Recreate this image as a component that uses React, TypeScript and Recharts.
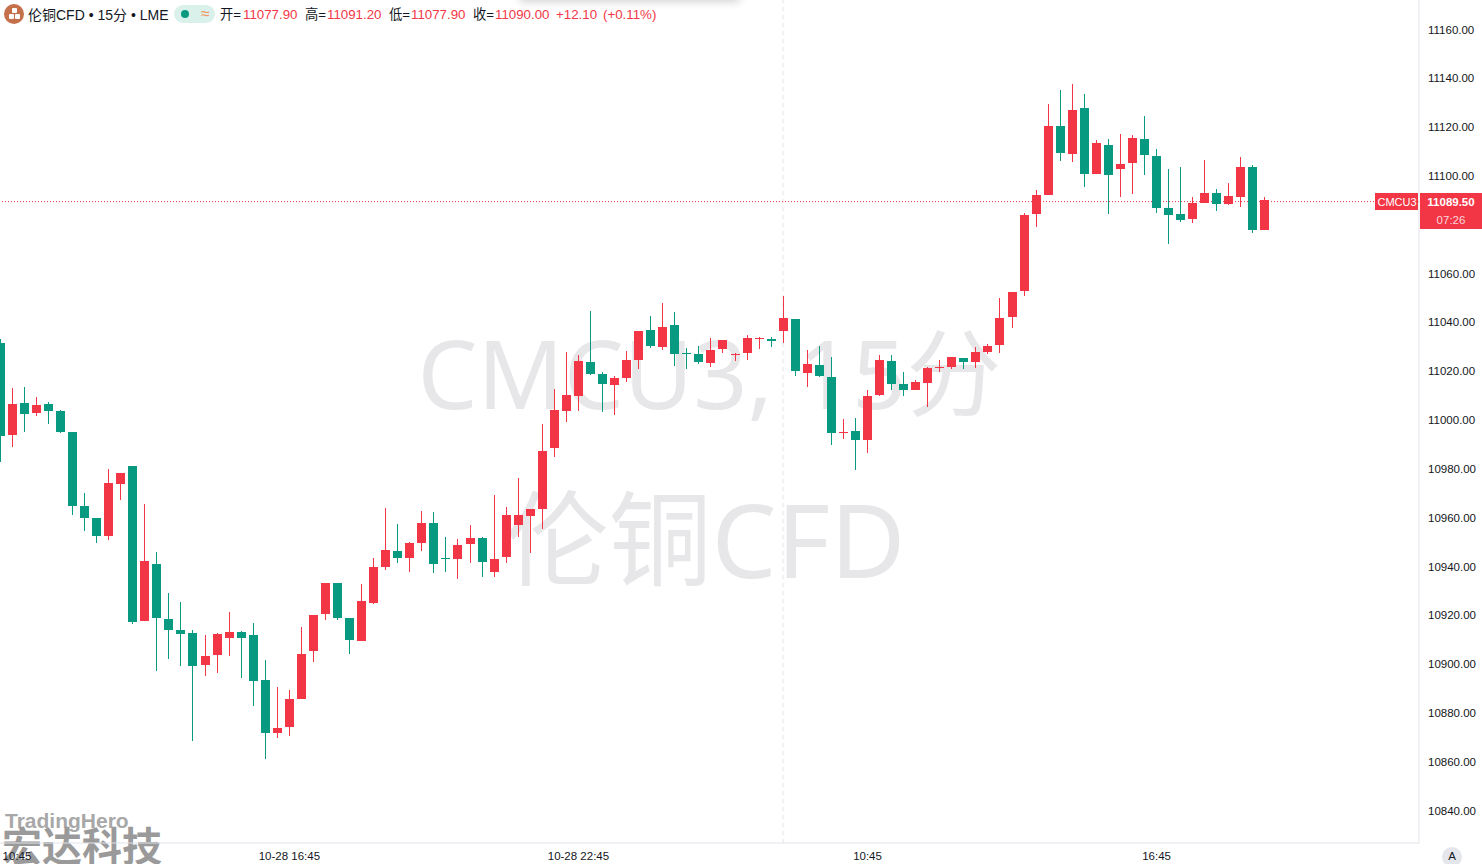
import { Bar, ComposedChart, ReferenceLine, XAxis, YAxis } from "recharts";

const UP = "#F23645";
const DOWN = "#089981";
const AXIS = "#E0E3EB";
const TEXT = "#131722";
const FONT = '"Liberation Sans", "Noto Sans CJK SC", sans-serif';

const opens = [
  11031.6, 10994.0, 11007.0, 11003.0, 11006.6, 11003.7, 10995.1, 10964.8, 10959.9, 10952.6,
  10973.9, 10981.2, 10917.8, 10941.0, 10918.5, 10914.0, 10912.8, 10899.8, 10903.9, 10910.8,
  10913.2, 10911.9, 10893.5, 10871.9, 10874.4, 10885.8, 10905.4, 10920.7, 10933.2, 10918.9,
  10909.5, 10925.2, 10939.9, 10946.4, 10943.6, 10949.8, 10957.8, 10943.5, 10943.2, 10949.3,
  10951.7, 10937.9, 10944.0, 10957.1, 10960.8, 10963.7, 10988.7, 11003.8, 11010.0, 11023.8,
  11018.9, 11014.5, 11017.4, 11024.7, 11036.9, 11030.1, 11038.9, 11027.5, 11027.1, 11023.5,
  11029.2, 11026.8, 11027.6, 11033.3, 11033.2, 11036.6, 11041.4, 11019.4, 11022.6, 11017.6,
  10994.8, 10995.5, 10992.0, 11010.4, 11024.2, 11014.8, 11012.4, 11015.3, 11021.4, 11021.9,
  11025.4, 11023.9, 11028.0, 11030.9, 11042.3, 11053.0, 11084.5, 11092.3, 11120.5, 11109.1,
  11127.8, 11100.9, 11112.7, 11103.0, 11105.4, 11115.1, 11108.2, 11086.9, 11084.4, 11082.5,
  11089.0, 11093.0, 11088.6, 11091.5, 11103.7, 11077.9,
];
const highs = [
  11033.2, 11013.1, 11013.5, 11009.4, 11007.4, 11004.1, 10995.1, 10970.1, 10959.9, 10979.9,
  10978.3, 10981.2, 10965.6, 10945.9, 10929.2, 10925.5, 10914.0, 10911.9, 10912.8, 10921.4,
  10913.6, 10916.9, 10901.7, 10890.6, 10889.4, 10915.2, 10920.1, 10933.2, 10933.2, 10918.9,
  10932.8, 10943.5, 10964.0, 10957.4, 10950.0, 10962.7, 10962.3, 10952.1, 10951.3, 10957.0,
  10952.1, 10969.3, 10964.4, 10976.3, 10963.6, 10998.4, 11012.7, 11027.9, 11026.7, 11044.7,
  11019.7, 11018.0, 11028.3, 11036.5, 11042.6, 11048.0, 11044.3, 11029.5, 11030.3, 11033.6,
  11032.8, 11027.5, 11034.8, 11034.0, 11034.0, 11050.8, 11041.4, 11028.7, 11030.3, 11025.8,
  11000.4, 11000.8, 11012.3, 11026.7, 11026.7, 11019.7, 11016.4, 11021.7, 11024.6, 11025.8,
  11025.4, 11029.9, 11031.2, 11050.0, 11052.5, 11084.8, 11094.2, 11129.5, 11135.2, 11137.7,
  11133.6, 11114.7, 11115.1, 11117.2, 11116.8, 11124.6, 11111.0, 11102.9, 11103.7, 11091.4,
  11106.5, 11094.7, 11097.1, 11107.8, 11104.5, 11091.2,
];
const lows = [
  10982.9, 10989.1, 10995.2, 11001.8, 10998.5, 10994.8, 10961.2, 10954.7, 10949.8, 10951.0,
  10967.4, 10916.6, 10917.8, 10897.3, 10902.2, 10899.4, 10868.6, 10894.9, 10896.5, 10903.5,
  10894.5, 10883.0, 10861.3, 10869.5, 10870.7, 10885.7, 10900.9, 10918.1, 10918.1, 10904.2,
  10909.5, 10924.8, 10938.7, 10941.6, 10937.9, 10946.5, 10937.5, 10937.9, 10935.0, 10941.6,
  10935.8, 10935.8, 10941.6, 10952.2, 10945.7, 10955.5, 10985.0, 10999.3, 11003.8, 11018.6,
  11003.4, 11002.2, 11015.7, 11021.0, 11029.6, 11028.8, 11022.3, 11021.0, 11023.1, 11021.9,
  11027.6, 11024.3, 11024.7, 11029.2, 11030.1, 11031.7, 11018.2, 11013.7, 11017.8, 10989.9,
  10992.4, 10979.3, 10986.6, 11010.0, 11012.4, 11010.0, 11012.4, 11005.5, 11019.8, 11021.0,
  11021.0, 11021.4, 11027.2, 11027.6, 11037.8, 11050.9, 11079.2, 11092.3, 11106.3, 11105.8,
  11095.6, 11100.9, 11084.5, 11091.5, 11092.7, 11100.5, 11084.9, 11072.2, 11081.3, 11080.9,
  11089.0, 11085.8, 11088.2, 11087.4, 11076.8, 11077.9,
];
const closes = [
  10993.6, 11006.6, 11002.6, 11006.2, 11003.8, 10995.2, 10964.9, 10960.0, 10952.6, 10974.2,
  10978.3, 10917.4, 10942.3, 10919.0, 10914.1, 10912.5, 10899.4, 10903.3, 10912.4, 10913.2,
  10910.8, 10893.2, 10871.9, 10873.8, 10885.7, 10904.2, 10920.1, 10933.2, 10919.0, 10909.9,
  10925.9, 10939.8, 10946.8, 10943.6, 10949.6, 10957.8, 10941.2, 10943.2, 10948.8, 10951.7,
  10942.0, 10943.1, 10961.1, 10961.1, 10963.6, 10987.3, 11004.1, 11010.3, 11024.2, 11019.0,
  11014.9, 11017.2, 11024.6, 11036.5, 11030.5, 11038.1, 11027.2, 11027.2, 11023.9, 11028.7,
  11032.8, 11027.1, 11033.6, 11033.6, 11032.4, 11041.8, 11020.2, 11023.0, 11018.2, 10994.8,
  10995.1, 10992.0, 11009.9, 11024.6, 11014.9, 11012.4, 11015.6, 11021.3, 11021.7, 11025.8,
  11023.9, 11027.9, 11030.3, 11041.8, 11052.5, 11084.0, 11092.2, 11120.5, 11109.5, 11127.0,
  11100.9, 11113.5, 11100.5, 11104.9, 11115.6, 11108.7, 11087.0, 11084.1, 11082.1, 11088.9,
  11093.0, 11088.6, 11091.8, 11103.7, 11078.0, 11090.0,
];

// 11080.00 sits under the price tag in the original, so it is left out
const priceTicks = [
  10840, 10860, 10880, 10900, 10920, 10940, 10960, 10980, 11000, 11020, 11040, 11060, 11100, 11120, 11140, 11160,
];
const timeTicks = [0, 24, 48, 72, 96];
const timeLabels = ["10:45", "10-28 16:45", "10-28 22:45", "10:45", "16:45"];
const lastPrice = 11089.5;
const crosshairIndex = 65;

const indexDomain = [-0.0231, 117.785];
const priceDomain = [10826.7, 11172.1];

const rows = opens.map((open, index) => ({
  index,
  open,
  close: closes[index],
  range: [lows[index], highs[index]],
}));

function Candle(props: any) {
  const { x, y, width, height, payload } = props;
  const [low, high] = payload.range;
  const perUnit = height / (high - low);
  // recharts puts the bar half a pixel right of the scale value
  const cx = Math.floor(x + width / 2 - 0.5);
  const color = payload.close >= payload.open ? UP : DOWN;
  const top = Math.round(y + (high - Math.max(payload.open, payload.close)) * perUnit);
  const bottom = Math.round(y + (high - Math.min(payload.open, payload.close)) * perUnit);
  return (
    <g shapeRendering="crispEdges">
      <rect x={cx} y={Math.round(y)} width={1} height={Math.max(1, Math.round(height))} fill={color} />
      <rect x={cx - 4} y={top} width={9} height={Math.max(1, bottom - top)} fill={color} />
    </g>
  );
}

function TimeTick(props: any) {
  const { x, y, payload } = props;
  const label = timeLabels[timeTicks.indexOf(payload.value)];
  // first label is pushed inside the pane, same as the original
  const tx = x < 17 ? 17 : x;
  return (
    <text x={tx} y={y + 9} textAnchor="middle" fontSize={11.5} fontFamily={FONT} fill={TEXT}>
      {label}
    </text>
  );
}

function PriceTag(props: any) {
  const { viewBox } = props;
  const y = Math.round(viewBox.y) - 9;
  return (
    <g fontFamily={FONT} textAnchor="middle">
      <rect x={1375} y={y} width={43} height={17} fill={UP} />
      <rect x={1420} y={y} width={62} height={36} fill={UP} />
      <text x={1397} y={y + 12.5} fontSize={11} fill="#fff">
        CMCU3
      </text>
      <text x={1451} y={y + 12.5} fontSize={11.5} fontWeight={700} fill="#fff">
        {lastPrice.toFixed(2)}
      </text>
      <text x={1451} y={y + 30.5} fontSize={11.5} fill="#FBD5D9">
        07:26
      </text>
    </g>
  );
}

const Abs = ({ x, y = 15, color = TEXT, size = 13.3, children }: any) => (
  <span
    style={{
      position: "absolute",
      left: x,
      top: y,
      transform: "translateY(-50%)",
      color,
      fontSize: size,
      lineHeight: 1,
      whiteSpace: "nowrap",
    }}
  >
    {children}
  </span>
);

function Header() {
  return (
    <>
      <div style={{ position: "absolute", left: 520, top: -10, width: 220, height: 10, boxShadow: "0 2px 8px rgba(0,0,0,0.18)" }} />
      <div style={{ position: "absolute", left: 4, top: 4, width: 20, height: 20, borderRadius: 10, background: "#C4704A" }} />
      <div style={{ position: "absolute", left: 12, top: 8, width: 5, height: 5, borderRadius: 1, background: "#fff" }} />
      <div style={{ position: "absolute", left: 9, top: 14, width: 5, height: 5, borderRadius: 1, background: "#fff" }} />
      <div style={{ position: "absolute", left: 15, top: 14, width: 5, height: 5, borderRadius: 1, background: "#fff" }} />
      <Abs x={28} size={14}>伦铜CFD • 15分 • LME</Abs>
      <div style={{ position: "absolute", left: 174, top: 5, width: 41, height: 18, borderRadius: 9, background: "#D9F0EB" }} />
      <div style={{ position: "absolute", left: 181, top: 10, width: 8, height: 8, borderRadius: 4, background: "#089981" }} />
      <Abs x={201} y={14} color="#F7925A" size={16}>≈</Abs>
      <Abs x={220}>开=</Abs>
      <Abs x={243} color={UP}>11077.90</Abs>
      <Abs x={305}>高=</Abs>
      <Abs x={327} color={UP}>11091.20</Abs>
      <Abs x={389}>低=</Abs>
      <Abs x={411} color={UP}>11077.90</Abs>
      <Abs x={473}>收=</Abs>
      <Abs x={495} color={UP}>11090.00</Abs>
      <Abs x={556} color={UP}>+12.10</Abs>
      <Abs x={603} color={UP}>(+0.11%)</Abs>
    </>
  );
}

function Watermark() {
  const style: any = {
    position: "absolute",
    transform: "translate(-50%, -50%)",
    color: "#E7E7E9",
    lineHeight: 1,
    whiteSpace: "nowrap",
    fontFamily: '"Noto Sans", "Noto Sans CJK SC", sans-serif',
  };
  return (
    <>
      <div style={{ ...style, left: 709.5, top: 372, fontSize: 95 }}>CMCU3, 15分</div>
      <div style={{ ...style, left: 705.5, top: 538, fontSize: 103 }}>伦铜CFD</div>
    </>
  );
}

// the crosshair and last price line sit under the candles, so they get their own chart behind
function LinesLayer() {
  return (
    <div style={{ position: "absolute", left: 0, top: 0 }}>
      <ComposedChart width={1482} height={864} data={rows} margin={{ top: 0, right: 0, bottom: 0, left: 0 }}>
        <XAxis dataKey="index" type="number" scale="linear" domain={indexDomain} height={21} tick={false} axisLine={false} tickLine={false} allowDataOverflow />
        <YAxis orientation="right" width={63} domain={priceDomain} tick={false} axisLine={false} tickLine={false} allowDataOverflow />
        <ReferenceLine x={crosshairIndex} stroke="#F0F0F2" strokeWidth={2} strokeDasharray="4 4" />
        <ReferenceLine y={lastPrice} stroke={UP} strokeDasharray="1 2" label={<PriceTag />} />
      </ComposedChart>
    </div>
  );
}

export default function App() {
  return (
    <div
      style={{
        position: "fixed",
        left: 0,
        top: 0,
        width: 1482,
        height: 864,
        overflow: "hidden",
        background: "#fff",
        fontFamily: FONT,
      }}
    >
      <Watermark />
      <Abs x={5} y={820} color="#A8A8A8" size={21}>
        <b>TradingHero</b>
      </Abs>
      <Abs x={2} y={845} color="#9A9A9A" size={40}>
        <b style={{ fontFamily: '"Noto Sans CJK SC", sans-serif' }}>宏达科技</b>
      </Abs>
      <LinesLayer />
      <div style={{ position: "absolute", left: 0, top: 0 }}>
        <ComposedChart width={1482} height={864} data={rows} margin={{ top: 0, right: 0, bottom: 0, left: 0 }} barSize={9}>
          <XAxis
            dataKey="index"
            type="number"
            scale="linear"
            domain={indexDomain}
            ticks={timeTicks}
            interval={0}
            height={21}
            tickLine={false}
            axisLine={{ stroke: AXIS }}
            tick={<TimeTick />}
            allowDataOverflow
          />
          <YAxis
            orientation="right"
            width={63}
            domain={priceDomain}
            ticks={priceTicks}
            interval={0}
            tickLine={false}
            tickMargin={3}
            axisLine={{ stroke: AXIS }}
            tick={{ fontSize: 11.5, fill: TEXT, fontFamily: FONT }}
            tickFormatter={(v: number) => v.toFixed(2)}
            allowDataOverflow
          />
          <Bar dataKey="range" shape={<Candle />} isAnimationActive={false} />
        </ComposedChart>
      </div>
      <Header />
      <div
        style={{
          position: "absolute",
          left: 1442,
          top: 847,
          width: 20,
          height: 20,
          borderRadius: 10,
          background: "#E4E6EC",
          color: TEXT,
          fontSize: 11.5,
          textAlign: "center",
          lineHeight: "19px",
        }}
      >
        A
      </div>
    </div>
  );
}
